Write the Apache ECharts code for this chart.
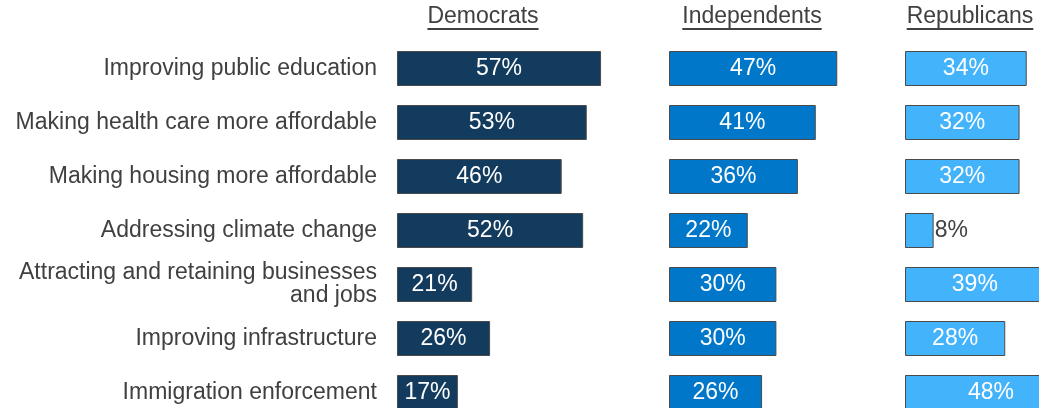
<!DOCTYPE html>
<html>
<head>
<meta charset="utf-8">
<script src="https://cdn.jsdelivr.net/npm/echarts@6/dist/echarts.min.js"></script>
<style>
  html, body { margin: 0; padding: 0; background: #ffffff; }
  #chart { width: 1039px; height: 408px; }
</style>
</head>
<body>
<div id="chart"></div>
<script>
// Priorities by party (share of respondents, %)
const categories = [
  'Improving public education',
  'Making health care more affordable',
  'Making housing more affordable',
  'Addressing climate change',
  'Attracting and retaining businesses\nand jobs',
  'Improving infrastructure',
  'Immigration enforcement'
];
const parties = ['Democrats', 'Independents', 'Republicans'];
const democrats = [57, 53, 46, 52, 21, 26, 17];
const independents = [47, 41, 36, 22, 30, 30, 26];
const republicans = [34, 32, 32, 8, 39, 28, 48];

const seriesValues = [democrats, independents, republicans];
const colors = ['#123b5e', '#0077c8', '#43b3fc'];
const gridLefts = [397, 669, 905];
const headerCenters = [483, 752, 970];
const pxPerPoint = 3.58;
const axisMax = 60;
const textColor = '#404040';
const fontFamily = '"Liberation Sans", Arial, sans-serif';
const fontSize = 23;

const chart = echarts.init(document.getElementById('chart'), null, { renderer: 'canvas' });

// Each party gets its own grid; the shared scale keeps bar lengths comparable
const grids = gridLefts.map(left => ({
  left: left,
  top: 41.5,
  width: axisMax * pxPerPoint,
  height: 378,
  outerBoundsMode: 'none'
}));

const xAxes = gridLefts.map((_, i) => ({
  type: 'value', gridIndex: i, min: 0, max: axisMax, show: false
}));

const yAxes = gridLefts.map((_, i) => ({
  type: 'category', gridIndex: i, data: categories, inverse: true,
  axisLine: { show: false }, axisTick: { show: false }, splitLine: { show: false },
  axisLabel: {
    show: i === 0, margin: 20, fontSize: fontSize, lineHeight: 23,
    color: textColor, fontFamily: fontFamily, align: 'right'
  }
}));

const series = seriesValues.map((vals, i) => ({
  type: 'bar', name: parties[i], xAxisIndex: i, yAxisIndex: i,
  barWidth: 35,
  clip: false,
  itemStyle: { color: colors[i], borderColor: '#4a4a4a', borderWidth: 1 },
  label: {
    show: true, position: 'inside', formatter: '{c}%',
    color: '#ffffff', fontSize: fontSize, fontFamily: fontFamily
  },
  data: vals.map(v => v < 10
    ? { value: v, label: { position: 'right', distance: 1, color: textColor } }
    : v)
}));

// Underlined party headers above each column
const ctx = document.createElement('canvas').getContext('2d');
ctx.font = fontSize + 'px ' + fontFamily;
const graphic = [];
parties.forEach((name, i) => {
  const w = ctx.measureText(name).width;
  graphic.push({
    type: 'text', x: headerCenters[i], y: 17, silent: true,
    style: {
      text: name, fontSize: fontSize, fontFamily: fontFamily, fill: textColor,
      align: 'center', verticalAlign: 'middle'
    }
  });
  graphic.push({
    type: 'line', silent: true,
    shape: { x1: headerCenters[i] - w / 2, y1: 29, x2: headerCenters[i] + w / 2, y2: 29 },
    style: { stroke: textColor, lineWidth: 2 }
  });
});

chart.setOption({
  animation: false,
  grid: grids,
  xAxis: xAxes,
  yAxis: yAxes,
  series: series,
  graphic: graphic
});
</script>
</body>
</html>
